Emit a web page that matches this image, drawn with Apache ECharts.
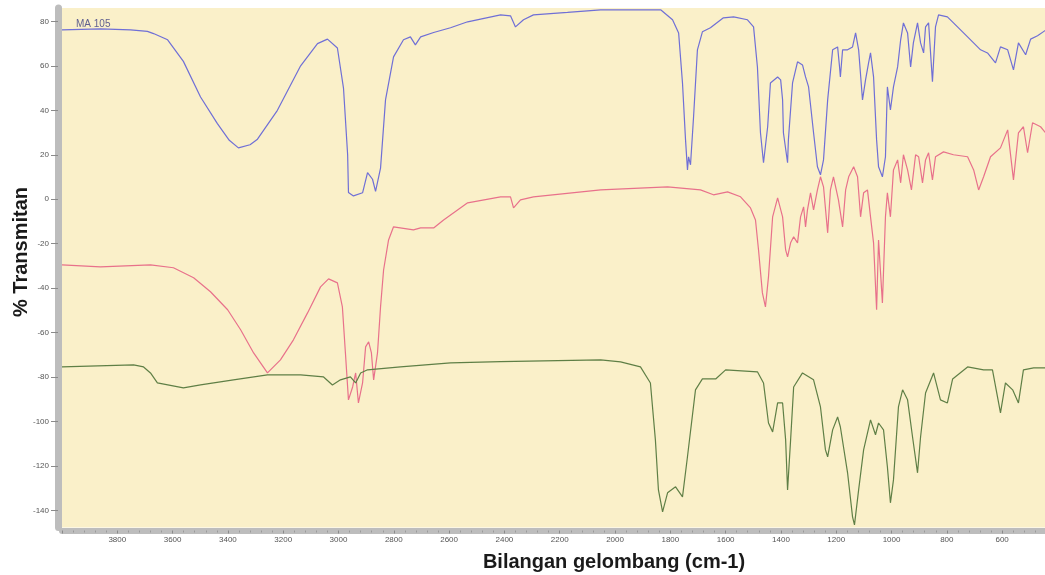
<!DOCTYPE html>
<html>
<head>
<meta charset="utf-8">
<script src="https://cdn.jsdelivr.net/npm/echarts@6/dist/echarts.min.js"></script>
<style>html,body{margin:0;padding:0;background:#fff;}#c{width:1045px;height:575px;}</style>
</head>
<body>
<div id="c"></div>
<script>
// Wavenumber (cm-1) and % transmittance
const seriesNames = ['MA 105', 'Sample 2', 'Sample 3'];
const blueData = [[4000,76.2],[3861,76.6],[3752,76.2],[3691,75.5],[3669,74.5],[3618,71.7],[3561,62],[3499,46],[3438,34],[3395,26.5],[3362,23.1],[3320,24.5],[3293,27],[3221,40],[3137,60],[3076,70],[3040,72],[3004,68],[2982,50],[2967,20],[2964,3],[2946,1.5],[2913,2.9],[2895,12],[2877,9],[2866,3.5],[2848,14],[2830,44.7],[2801,64],[2765,71.7],[2740,73],[2722,69.4],[2703,73],[2656,75],[2595,77.1],[2533,79.8],[2414,82.9],[2378,82.5],[2360,77.5],[2331,80.7],[2295,82.9],[2172,84],[2052,85.2],[1835,85.2],[1792,80.7],[1770,74.8],[1756,52.3],[1745,26.7],[1738,13.2],[1734,19.1],[1727,15.5],[1716,37],[1702,67.2],[1684,75.3],[1655,77.1],[1608,81.6],[1571,82],[1521,80.7],[1499,77.5],[1485,59.5],[1474,29.9],[1463,16.4],[1448,32.6],[1438,52.3],[1412,55],[1401,53.7],[1394,44.7],[1391,29.9],[1376,16.4],[1373,26.7],[1358,52.3],[1340,61.8],[1322,60.4],[1311,55],[1300,50.5],[1282,29.9],[1268,14.6],[1257,11],[1246,17.7],[1231,44.7],[1213,67.2],[1195,68.5],[1188,59.5],[1185,55],[1177,67.2],[1159,67.2],[1141,68.5],[1130,74.8],[1119,67.2],[1105,44.7],[1094,53.7],[1083,61.3],[1076,65.8],[1065,55],[1054,26.7],[1047,14.6],[1033,10.1],[1022,19.1],[1015,50.5],[1004,40.2],[993,50.5],[978,59.5],[967,71.7],[957,79.3],[942,74.8],[931,59.5],[921,70.3],[906,79.3],[895,70.3],[884,65.8],[877,77.5],[866,79.3],[852,52.8],[841,77.5],[830,82.9],[798,82],[776,79.3],[725,73],[678,67.2],[653,65.8],[624,61.3],[606,68.5],[580,67.2],[559,58.2],[541,70.3],[515,65],[497,72],[472,73.5],[443,76]];
const redData = [[4000,-29.5],[3861,-30.4],[3680,-29.5],[3597,-30.8],[3524,-35.3],[3463,-41.6],[3401,-49.7],[3354,-58.7],[3307,-69.1],[3257,-78.1],[3210,-72.2],[3163,-63.2],[3112,-51.1],[3065,-39.4],[3036,-35.8],[3004,-37.6],[2986,-48.4],[2975,-69.1],[2964,-90.2],[2949,-84.4],[2938,-78.1],[2928,-91.6],[2913,-82.6],[2902,-66.4],[2891,-64.1],[2881,-69.1],[2873,-81.2],[2859,-69.1],[2848,-48.4],[2837,-31.8],[2819,-18.3],[2801,-12.4],[2729,-13.8],[2703,-12.9],[2656,-12.9],[2620,-9.3],[2533,-1.6],[2414,1.1],[2378,1.1],[2367,-3.9],[2342,-0.3],[2295,1.1],[2052,4.2],[1810,5.6],[1691,4.2],[1644,2.0],[1593,3.3],[1546,1.1],[1510,-3.9],[1492,-9.3],[1481,-22.8],[1467,-42.1],[1456,-48.4],[1445,-34.9],[1430,-7.9],[1412,0.6],[1394,-7.9],[1383,-22.8],[1376,-25.9],[1365,-19.6],[1354,-16.9],[1340,-19.6],[1329,-7.9],[1318,-3.4],[1311,-12.4],[1304,-4.8],[1293,2.9],[1282,-4.8],[1268,4.2],[1257,10.1],[1246,5.6],[1231,-15.1],[1221,4.2],[1210,10.1],[1192,-0.3],[1177,-12.4],[1166,4.2],[1155,10.1],[1137,14.6],[1123,10.1],[1112,-7.9],[1101,2.9],[1087,4.2],[1076,-7.9],[1065,-19.6],[1054,-49.7],[1047,-18.3],[1033,-46.6],[1022,-7.9],[1015,2.9],[1004,-7.9],[993,13.2],[978,17.7],[967,7.4],[957,20.0],[942,13.2],[928,4.2],[913,20.0],[902,19.1],[888,7.4],[877,17.7],[866,20.9],[852,8.7],[841,19.1],[812,21.3],[776,20.0],[725,19.1],[703,13.2],[685,4.2],[667,10.1],[642,19.1],[606,23.1],[580,31.2],[559,8.7],[541,29.9],[523,32.6],[508,20.9],[490,34.4],[461,32.6],[443,29.9]];
const greenData = [[4000,-75.4],[3741,-74.5],[3705,-75.4],[3680,-78.1],[3655,-82.6],[3561,-84.8],[3499,-83.5],[3380,-81.2],[3257,-79],[3137,-79],[3054,-79.9],[3022,-83.5],[2993,-81.2],[2957,-79.9],[2938,-82.6],[2920,-78.1],[2895,-76.7],[2776,-75.4],[2595,-73.6],[2414,-73],[2052,-72.2],[1980,-73.1],[1908,-75.4],[1872,-82.6],[1854,-108.2],[1843,-130.7],[1828,-140.6],[1810,-132],[1781,-129.3],[1756,-133.8],[1738,-115.8],[1709,-85.7],[1684,-80.8],[1636,-80.8],[1600,-76.7],[1485,-77.6],[1463,-82.6],[1445,-100.6],[1430,-104.6],[1412,-91.6],[1394,-91.6],[1383,-108.2],[1376,-130.7],[1365,-108.2],[1354,-84.4],[1322,-78.1],[1282,-81.2],[1257,-93.4],[1239,-112.7],[1231,-115.8],[1213,-103.7],[1195,-97.9],[1185,-102.4],[1159,-123],[1141,-142.8],[1134,-146.4],[1119,-130.7],[1101,-112.7],[1076,-99.2],[1058,-105.9],[1047,-100.6],[1029,-103.7],[1015,-120.3],[1004,-136.5],[993,-126.2],[975,-93.4],[960,-85.7],[942,-90.2],[924,-106.9],[906,-123],[895,-106.9],[877,-87.1],[848,-78.1],[823,-90.2],[798,-91.6],[779,-80.8],[725,-75.4],[667,-76.7],[635,-76.7],[606,-96.1],[588,-82.6],[562,-85.7],[541,-91.6],[523,-76.7],[486,-75.8],[443,-75.8]];
const xRange = [445, 4000];
const yRange = [-147.6, 86];
const xStep = 200;
const yStep = 20;
const xTitle = 'Bilangan gelombang (cm-1)';
const yTitle = '% Transmitan';
const sampleLabel = 'MA 105';

const chart = echarts.init(document.getElementById('c'), null, {renderer: 'canvas'});
const axisGray = '#bdbdbd';
const labelStyle = {color: '#555', fontSize: 8, fontFamily: 'Liberation Sans', formatter: v => String(Math.round(v))};
chart.setOption({
  animation: false,
  backgroundColor: '#ffffff',
  grid: {left: 62, right: 0, top: 8, bottom: 47.5, show: true, backgroundColor: '#faf0c9', borderWidth: 0},
  xAxis: {
    type: 'value', inverse: true, min: xRange[0], max: xRange[1],
    minInterval: xStep, maxInterval: xStep, splitNumber: 18,
    offset: 3,
    axisLine: {show: true, onZero: false, lineStyle: {color: axisGray, width: 6}},
    axisTick: {show: true, length: 3, lineStyle: {color: '#8a8a8a', width: 1}},
    minorTick: {show: true, splitNumber: 5, length: 2, lineStyle: {color: '#9a9a9a', width: 1}},
    axisLabel: Object.assign({margin: 5, showMinLabel: false, showMaxLabel: false}, labelStyle),
    splitLine: {show: false}
  },
  yAxis: {
    type: 'value', min: yRange[0], max: yRange[1],
    minInterval: yStep, maxInterval: yStep, splitNumber: 12,
    offset: 4,
    axisLine: {show: true, onZero: false, lineStyle: {color: axisGray, width: 7}},
    axisTick: {show: true, length: 7, lineStyle: {color: '#8a8a8a', width: 1}},
    axisLabel: Object.assign({margin: 9, showMinLabel: false, showMaxLabel: false}, labelStyle),
    splitLine: {show: false}
  },
  graphic: [
    {type: 'text', x: 614, y: 562, style: {text: xTitle, align: 'center', verticalAlign: 'middle', font: 'bold 20px "Liberation Sans"', fill: '#1a1a1a'}},
    {type: 'text', x: 21, y: 252, rotation: Math.PI / 2, style: {text: yTitle, align: 'center', verticalAlign: 'middle', font: 'bold 20px "Liberation Sans"', fill: '#1a1a1a'}},
    {type: 'text', x: 76, y: 24, style: {text: sampleLabel, align: 'left', verticalAlign: 'middle', font: '10px "Liberation Sans"', fill: '#5f5f8f'}, z: 100}
  ],
  series: [
    {name: seriesNames[0], type: 'line', data: blueData, showSymbol: false, symbol: 'none', lineStyle: {color: '#6f6fd6', width: 1.2}},
    {name: seriesNames[1], type: 'line', data: redData, showSymbol: false, symbol: 'none', lineStyle: {color: '#e8718b', width: 1.2}},
    {name: seriesNames[2], type: 'line', data: greenData, showSymbol: false, symbol: 'none', lineStyle: {color: '#5f7f46', width: 1.2}}
  ]
});
</script>
</body>
</html>
